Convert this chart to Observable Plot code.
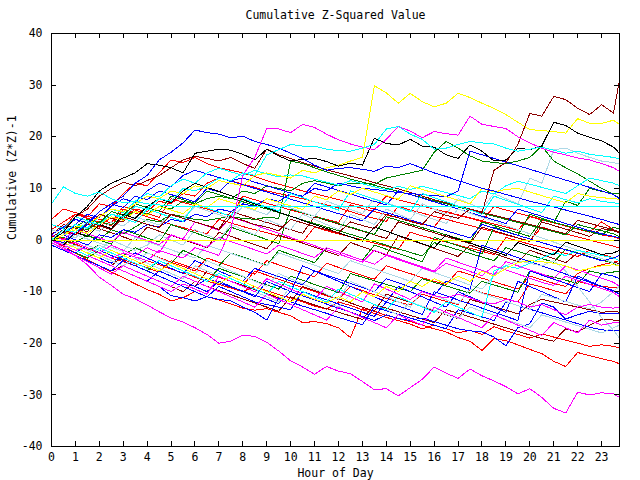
<!DOCTYPE html>
<html><head><meta charset="utf-8">
<script src="https://cdn.jsdelivr.net/npm/d3@7"></script>
<script src="https://cdn.jsdelivr.net/npm/@observablehq/plot@0.6"></script>
<style>body{margin:0;background:#fff}</style>
</head><body><div id="chart"></div>
<script>
const title = "Cumulative Z-Squared Value";
const xLabel = "Hour of Day";
const yLabel = "Cumulative (Z*Z)-1";
const hours = [0,0.5,1,1.5,2,2.5,3, 3.5,4,4.5,5,5.5,6,6.5, 7,7.5,8,8.5,9,9.5,10, 10.5,11,11.5,12,12.5,13,13.5, 14,14.5,15,15.5,16,16.5,17, 17.5,18,18.5,19,19.5,20,20.5, 21,21.5,22,22.5,23,23.5,23.75];
const hourTicks = [0,1,2,3,4,5,6,7,8,9,10,11,12,13,14,15,16,17,18,19,20,21,22,23];
const valueTicks = [-40,-30,-20,-10,0,10,20,30,40];

const r1 = [3,2.2,5,4.2,3.5,2.8,6, 5.2,4.5,3.8,3,2.4,1.8,1.2, 4,3.3,2.6,2,1.4,0.8,0.2, -0.4,2.5,1.8,1.2,0.6,0,-0.6, -1.2,-1.8,1.5,0.8,0.2,-0.4,-1, -1.6,-2.2,-2.8,0.5,-0.2,-0.8,-1.4, -2,-2.6,-3.2,-2,-2.8,-3.4,-4];
const r2 = [0,-1.2,-2.5,-3.8,-5,-6.2,-7.3, -8.5,-9.6,-10.5,-11.8,-11.2,-10,-11, -11.6,-12.4,-13.2,-13.6,-13.3,-14,-14.7, -16,-15.8,-16.2,-17,-18.9,-13.3,-13.8, -14.6,-15.2,-15.8,-16.5,-17.2,-17.8,-18.9, -19.6,-21.4,-19.1,-19.5,-20.3,-21.2,-22, -23.5,-24.5,-21.8,-22.4,-23,-23.5,-24];
const r3 = [1,0.2,-0.8,-1.8,-2.5,-3.5,-4.2, -5,-4,-4.8,-5.6,-6.4,-7.2,-8, -8.6,-9.3,-10,-9,-9.8,-10.6,-11.2, -12,-12.8,-13.4,-12,-12.7,-13.5,-14.2, -15,-15.6,-16.3,-17.2,-16.5,-17.2,-18, -17.5,-18.3,-16.8,-17.6,-18.3,-19,-18.2, -18.8,-19.4,-20,-20.6,-20.3,-20.6,-20.9];
const r4 = [2,3.5,5,4.5,7,6.5,9, 11,10.5,13,15.5,15,16,14.8, 14,13.5,13,12.3,11.5,10.8,10.2, 9.5,9,8.4,7.8,7.2,6.6,6, 8.5,7.8,7.2,6.6,6,5.4,4.8, 4.2,3.6,6.5,5.8,5.2,4.6,4, 3.4,2.8,2.2,1.6,1,0.6,0.2];
const r5 = [0,1.5,1,3,2.5,4.5,4, 6,5.5,7.5,7,9,8.5,11, 12,11.5,10.8,10.2,9.5,9,8.5, 8,7.4,6.8,6.2,5.5,4.8,4.2, 3.6,6.5,5.8,5.2,4.6,4,3.4, 2.8,2.2,1.6,1,0.4,-0.2,2.5, 1.8,1.2,0.6,0,-0.6,-1.2,-1.6];
const r6 = [-0.5,-1.5,-2.5,-3.4,-2,-3,-3.8, -4.6,-5.4,-6.2,-4,-4.8,-5.6,-6.4, -7.2,-8,-8.8,-6,-6.8,-7.6,-8.4, -9.2,-10,-10.8,-11.5,-9,-9.8,-10.6, -11.3,-12,-12.6,-10.5,-11.2,-11.9,-12.5, -9.5,-10.2,-10.8,-11.4,-12,-8.5,-9.1, -9.8,-10.4,-8,-8.6,-9,-9.2,-9.3];
const r7 = [4,6,5.3,4.6,4,3.3,6.5, 5.8,5.1,4.4,8,7.3,6.6,6, 5.3,4.7,8.5,7.8,7.1,6.5,5.8, 5.2,4.6,4,3.4,6.8,6.1,5.5, 4.9,4.3,3.7,3.1,2.5,5.5,4.9, 4.3,3.7,3.1,2.5,1.9,4.5,3.9, 3.3,2.7,2.1,1.5,3.5,2,1.4];
const r8 = [0.5,-0.5,-1.5,-2.5,-1,-2,-3, -4,-2.5,-3.4,-4.3,-5.1,-6,-3.5, -4.3,-5.1,-5.9,-6.6,-4,-4.8,-5.6, -6.4,-7.1,-4.5,-5.3,-6.1,-6.9,-7.6, -5,-5.8,-6.5,-7.3,-8,-8.6,-6, -6.7,-7.4,-8.1,-8.8,-9.5,-7,-7.7, -8.4,-9,-6.5,-5.5,-4.8,-4.3,-4];
const dr1 = [0,2,4.5,6,8.5,10,11.2, 10.5,11.5,12.5,14,15.5,16.2,15.8, 15.3,16,14.8,13.9,17.6,16.5,15.8, 15,14.3,13.6,13,12.4,11.8,11.1, 10.5,9.9,9.2,8.5,7.8,7.2,6.6, 6,5.4,4.8,4.2,3.6,3,2.4, 1.8,1.2,3.8,3.2,2.6,2,1.5];
const dr2 = [-1,-2,-3,-4,-5,-6,-5, -6,-7,-8,-9,-10,-8,-9, -9.8,-10.6,-11.4,-12.2,-13,-13.8,-11, -11.8,-12.6,-13.3,-14,-14.7,-15.4,-12.5, -13.2,-13.9,-14.6,-15.3,-16,-13.5,-14.2, -14.9,-15.6,-16.3,-17,-17.7,-18.4,-19.1, -19.6,-17.2,-17.8,-16.5,-15.4,-15.5,-15.6];
const dr3 = [2,1.2,0.4,3,2.2,1.4,0.6, -0.2,2.5,1.7,0.9,0.1,-0.7,-1.5, 1.5,0.7,-0.1,-0.9,-1.7,1,0.2, -0.6,-1.4,-2.2,-3,-0.5,-1.3,-2.1, -2.9,0.8,0,-0.8,-1.6,-2.4,-3.2, -1,-1.8,-2.6,-3.4,-4.2,-2,-2.8, -3.6,-4.4,-2.5,-3.2,-3.9,-4.3,-4.6];
const dr4 = [1,3,2.3,1.6,5,4.2,3.5, 7,6.3,5.6,4.9,4.2,3.5,2.8, 2.1,5.5,4.8,4.1,3.4,2.7,2, 1.3,4.5,3.8,3.1,2.4,1.7,1, 0.3,3.5,2.8,2.1,1.4,0.7,0, -0.7,2.5,1.8,1.1,0.4,-0.3,3.5, 2.8,2.1,1.4,0.7,2.2,1.8,1.4];
const dr5 = [0,-1,-2,-3,-4,-5,-3, -4,-5,-6,-7,-8,-9,-6, -7,-8,-8.8,-9.6,-10.4,-11.2,-12, -9,-9.8,-10.6,-11.4,-12.2,-13,-13.8, -10.5,-11.3,-12.1,-12.9,-13.7,-14.5,-15.2, -11.5,-12.2,-12.9,-13.6,-14.3,-12.5,-11.5, -12,-12.5,-13,-13.5,-14,-13.8,-14];
const g1 = [0,0.5,-0.5,1,0,2,1.2, 2.5,4,3.5,5,4.5,4,3.8, 4.2,4.5,4.2,4,4.4,4.2,15.3, 14.8,14,13.2,12.5,11.8,11.2,10.6, 10,9.4,8.8,8.2,7.6,7,6.4, 5.8,5.2,4.6,4,3.4,2.8,2.2, 1.6,1,3,2.4,1.8,1.2,0.6];
const g2 = [0,1,2.5,2,3.5,3,4.5, 5.5,5,6.5,6,7.5,7,8, 8.5,8,9.5,9,10.5,10,9.5, 11,11.5,11,10.5,11,11,10.8, 12,12.5,13,13.5,17,19.1,17.8, 16.3,15.3,15,14.8,15.3,16,18.2, 15.3,14,12.8,11.4,10,8.8,8.1];
const g3 = [0,-1,1.5,0.8,0,-0.8,2, 1.2,0.4,-0.4,3,2.2,1.4,0.6, -0.2,2.5,1.7,0.9,0.1,-0.7,6, 5.3,4.6,3.9,3.2,2.5,1.8,1.1, 4.5,3.8,3.1,2.4,1.7,1,0.3, -0.4,3.5,2.8,2.1,1.4,0.7,4, 3.4,2.8,2.2,1.6,1,2.5,2.1];
const g4 = [-0.5,-1.5,-2.5,-3.5,-2,-3,-4, -5,-6,-4,-5,-6,-7,-8, -5.5,-6.3,-7.1,-7.9,-8.7,-9.5,-7, -7.8,-8.6,-9.4,-10.2,-6.5,-7.2,-7.9, -8.6,-9.3,-10,-7.5,-8.2,-8.9,-9.6, -10.3,-8,-8.7,-9.4,-10.1,-6,-6.6, -7.2,-7.8,-8.4,-6,-6.5,-6.2,-6];
const g5 = [1,0,-1,-2,-1,-2,-3, -1.5,-2.5,-3.5,-4.5,-2,-3,-4, -5,-2.5,-3.3,-4.1,-4.9,-2,-2.8, -3.6,-4.4,-1.5,-2.3,-3.1,-3.9,-1, -1.8,-2.6,-3.4,-4.2,0.5,-0.3,-1.1, -1.9,-2.7,2.5,1.7,0.9,5,4.2, 3.4,7.5,6.7,10,9.4,9,8.9];
const g6 = [0,1,2.5,4,3.3,5.5,4.8, 7,6.3,5.6,8.5,7.8,7.1,9.5, 8.8,8.1,7.4,6.7,6,5.3,4.6, 3.9,3.2,2.5,1.8,1.1,0.4,-0.3, -1,-1.7,-2.4,-3.1,-0.5,-1.2,-1.9, -2.6,-3.3,-4,-1.5,-2.2,-2.9,-3.6, -4.3,-1.8,-2.5,-3.2,-3.9,-4.5,-5];
const b1 = [0,-1,-2,-3,-4,-5,-6, -7,-8,-9,-10.8,-11.2,-11.8,-11, -11.5,-11.8,-13,-14,-15.5,-11.2,-12, -12.8,-13.5,-14.2,-15,-15.7,-16.4,-13, -13.7,-14.4,-15.1,-15.8,-16.5,-17.2,-13.5, -14.2,-14.9,-15.6,-12,-12.7,-13.4,-14.1, -14.8,-15.5,-16.2,-16.9,-17.4,-17.6,-17.6];
const b2 = [0.5,-0.5,-1.5,-2.5,-3.5,-4.5,-3, -4,-5,-6,-7,-8,-9,-7.5, -8.3,-9.1,-9.9,-10.7,-11.5,-12.3,-10, -10.8,-11.6,-12.4,-13.2,-14,-14.8,-15.6, -14.5,-15.2,-15.6,-15.1,-15.8,-16.5,-17.2, -17.6,-17.8,-18.8,-20.5,-17,-16.2,-12.2, -13,-15.3,-14.5,-13.8,-14.3,-14.3,-14.3];
const b3 = [-0.5,-1.5,-2.5,-1,-2,-3,-4, -2.5,-3.5,-4.5,-5.5,-6.5,-4,-5, -6,-7,-8,-5.5,-6.3,-7.1,-7.9, -8.7,-6,-6.8,-7.6,-8.4,-9.2,-10, -7.5,-8.3,-9.1,-9.9,-10.7,-8,-8.8, -9.6,-1,-1.8,-2.6,-3.4,-4.2,-5, -5.8,-6.6,-7.4,-8.2,-9,-10,-10.4];
const b4 = [1,2.5,4,3.3,5.5,7,6.3, 8.5,7.8,9.5,8.8,8.1,7.4,10, 9.3,11.5,12,11.2,10.5,9.8,9.1, 8.4,11,10.3,9.6,8.9,8.2,7.5, 6.8,9.5,8.8,8.1,7.4,6.7,6, 5.3,4.6,3.9,3.2,6,5.3,4.6, 3.9,3.2,2.5,1.8,1.2,0.7,0.4];
const b5 = [0,-1,-2,-3,-4,-5,-6, -7,-8,-6,-7,-8,-9,-10, -8,-9,-10,-11,-8,-9,-10, -5,-6,-7,-8,-9,-10,-11, -12,-9,-10,-11,-12,-13,-10, -11,-12,-13,-14,-8,-9,-10, -11,-12,-7,-8,-9,-9.8,-10.4];
const b6 = [0,1,3,5,4.3,6.5,8, 7.3,9.5,11,10.3,12.5,13.5,12.8, 12.1,11.4,10.7,10,9.3,8.6,7.9, 7.2,6.5,5.8,5.1,4.4,3.7,6, 5.3,4.6,3.9,3.2,2.5,1.8,1.1, 0.4,3,2.3,1.6,0.9,0.2,-0.5, -1.2,-1.9,-2.6,-3.3,-4,-3.5,-3];
const b7 = [-1,-2,-3,-4,-5,-6,-4, -5,-6,-7,-8,-9,-10,-11, -9,-10,-11,-12,-12.5,-13,-13.5, -10,-10.8,-11.6,-12.4,-13.2,-14,-14.8, -12,-12.8,-13.6,-14.4,-10,-10.8,-11.6, -12.4,-13.2,-14,-14.8,-15.6,-6,-6.8, -7.6,-8.4,-9.2,-10,-6.5,-7,-7.5];
const b8 = [0,1,0,-1,1,0.5,2, 1.5,3,2.5,4,3.5,5,4.5, 6,5.5,7,6.5,8,7.5,9, 8.5,10,9.5,11,10.5,10,9.8, 9.5,9.2,9,8.8,8.6,8.4,9.5, 17.2,16.5,15.8,15.1,14.4,13.7,13, 12.3,11.6,10.9,10.2,9.5,8.8,8];
const lb1 = [0,-1,-2,-1,-2,0,-1, -2,-1,1,0,-1,2,1, 0,3,2,1,4,3,2, 5,4,3,2,5,4,3, 6,5,4,7,6,5,8, 7,6,9,8,7,12,11, 17.5,17.8,16.8,16,15.3,15,14.7];
const lb2 = [0.5,-0.5,-1.5,-2.5,-1,-2,-3, -4,-2.5,-3.5,-4.5,-5.5,-6.5,-4, -5,-6,-7,-8,-9,-6.5,-7.5, -8.5,-9.5,-10.5,-11.5,-8,-9,-10, -11,-12,-13,-10,-10.8,-11.6,-12.4, -9.5,-10.3,-11.1,-11.9,-12.7,-13.5,-10.5, -11.2,-11.9,-12.6,-13.3,-12,-10,-8.9];
const lb3 = [-0.5,-1.5,-1,-2,-3,-4,-5, -3.5,-4.5,-5.5,-6.5,-7.5,-5,-6, -7,-8,-9,-10,-11,-12,-9, -10,-11,-12,-13,-10.5,-11.5,-12.5, -13.5,-14.5,-12,-12.8,-13.6,-14.4,-15.2, -13,-13.8,-14.6,-15.4,-16.2,-17,-14.5, -15.2,-15.9,-16.6,-17.3,-18,-17,-16.5];
const lb4 = [0,-0.8,1,0.2,-0.6,-1.4,-2.2, 0.5,-0.3,-1.1,-1.9,-2.7,-3.5,-1, -1.8,-2.6,-3.4,-4.2,-5,-2.5,-3.3, -4.1,-4.9,-5.7,-6.5,-4,-4.8,-5.6, -6.4,-7.2,-8,-5.5,-6.3,-7.1,-7.9, -8.7,-9.5,-7,-5,-4,-4.5,-5, -4,-6,-9,-12,-15,-17.5,-19];
const lb5 = [2,1.2,0.4,2.5,1.7,3.5,2.7, 4.5,3.7,2.9,5,4.2,6.5,5.7, 4.9,4.1,6.5,5.7,4.9,7,6.2, 5.4,4.6,7.5,6.7,5.9,5.1,8, 7.2,6.4,5.6,4.8,4,3.2,6, 5.2,4.4,3.6,2.8,2,1.2,0.4, -0.4,-1.2,-2,-2.8,-3.6,-4.4,-5];
const m2 = [0,-1,-2,-3,-4,-5,-6, -7,-8,-9,-10,-8.5,-9.5,-10.5, -7,-8,-9,-10,-7.5,-8.5,-9.5, -10.5,-11.5,-9,-10,-11,-12,-8.5, -9.5,-10.5,-11.5,-10,-10.8,-11.2,-10.5, -11.2,-12,-12.4,-11.5,-12,-13,-12.5, -13.5,-14.5,-13,-12.5,-13,-13.2,-13];
const m3 = [-0.5,-1.8,-3,-4.2,-5.4,-6.6,-5, -6,-7,-8,-9,-7,-8,-9, -10,-11,-12,-13,-10.5,-11.5,-12.5, -13.5,-14.5,-15.5,-13,-14,-15,-16, -17,-14.5,-15.5,-16.5,-13,-14,-15, -16,-17,-14.5,-15.5,-16.5,-17.5,-18.5, -16,-17,-18,-15.5,-16.5,-16,-16];
const m4 = [1,0,2,1.2,0.4,-0.4,1.5, 0.7,-0.1,-0.9,1,0.2,-0.6,-1.4, 0.5,-0.3,-1.1,-1.9,-2.7,-1,-1.8, -2.6,-3.4,-1.5,-2.3,-3.1,-3.9,-4.7, -3,-3.8,-4.6,-5.4,-6.2,-4.5,-5.3, -6.1,-6.9,-5,-5.8,-6.6,-7.4,-8.2, -8.8,-7,-7.8,-8.6,-9.4,-10.2,-11];
const m5 = [0,-1,-0.5,-1.5,-2.5,-1,-2, -3,-1.5,-2.5,1,0.2,3.5,2.7, 1.9,4.5,3.7,2.9,2.1,1.3,0.5, -0.3,-1.1,-1.9,-2.7,-3.5,-4.3,-2, -2.8,-3.6,-4.4,-5.2,-6,-3.5,-4.3, -5.1,-5.9,-6.7,-4.2,-5,-5.8,-6.6, -7.4,-5,-5.8,-6.6,-7.4,-8.2,-9];
const c3 = [3,2.2,4.5,3.7,2.9,5,4.2, 3.4,6,5.2,4.4,3.6,7,6.2, 5.4,4.6,8,7.2,6.4,5.6,9, 8.2,7.4,6.6,5.8,9.5,8.7,7.9, 7.1,6.3,5.5,9,8.2,7.4,6.6, 5.8,5,8.5,7.7,6.9,6.1,5.3, 8.5,7.8,7.2,8,7.5,7.2,7];
const c4 = [0,-1,-2,-3,-1.5,-2.5,-3.5, -4.5,-5.5,-4,-5,-6,-7,-8, -6.5,-7.5,-8.5,-9.5,-10.5,-8,-9, -10,-11,-12,-9.5,-10.5,-11.5,-12.5, -13.5,-11,-12,-13,-14,-12,-13, -14,-15,-6,-5,-5.5,-4.5,-3.5, -2.5,-3,-2,-2.5,-3,-3.5,-4];
const c5 = [0,1.5,3,2.3,4.5,6,5.3, 7.5,9,8.3,10.5,11.8,11,13, 13.9,13.2,12.5,13.5,12.8,12.2,12.6, 12.4,11.8,11.2,10.6,11.5,10.9,10.3, 9.7,10.4,9.8,10.4,9.8,9.2,8.6, 8,9.5,8.9,10.5,11.4,10.8,10.2, 9.6,9,10.5,12,11.5,11,10.5];
const y3 = [0,1,2,1.3,3,4.5,3.8, 5.5,4.8,6.5,5.8,5.1,7,6.3, 8,7.3,6.6,5.9,8,7.3,6.6, 5.9,8.5,7.8,9.5,8.8,10,9.3, 8.6,7.9,10.5,9.8,9.1,8.4,7.7, 7,10,9.3,9.8,10,9.3,8.6, 7.9,7.2,9,8.5,8.2,8,7.9];
const y4 = [0.5,-0.5,-1.5,-2.5,-3.5,-2,-3, -4,-5,-6,-4.5,-5.5,-6.5,-7.5, -8.5,-7,-8,-9,-10,-11,-12, -10.5,-11.5,-12.2,-11,-12,-10,-11, -9,-10,-8,-9,-7.5,-8.5,-7, -8,-6,-7,-5.5,-4.4,-4,-4.2, -4.5,-5,-6,-5.5,-5,-4.8,-5];
const k2 = [0,-1,1.5,0.7,3,2.2,5, 4.2,6.5,8,7.2,9.5,11,10.2, 9.4,8.6,7.8,7,6.2,5.4,4.6, 3.8,3,2.2,1.4,0.6,-0.2,2.5, 1.7,0.9,0.1,-0.7,-1.5,1,0.2, -0.6,-1.4,-2.2,-3,-0.5,-1.3,-2.1, -2.9,-0.4,-1.2,-2,-2.8,-2.5,-2];
const magBottom = [0,-1.5,-3,-4.8,-7.2,-8.8,-10.5, -11.4,-12.6,-13.9,-15.1,-15.9,-17,-18.3, -20,-19.6,-18.4,-18.7,-19.8,-21.5,-23.4, -24.6,-26,-24.5,-25.4,-25.9,-27.4,-29, -28.8,-30.2,-28.6,-27,-24.6,-25.8,-26.8, -25,-26.3,-27.3,-28.4,-29.8,-28.8,-30.5, -32.6,-33.5,-29.5,-30,-29.6,-29.8,-30.5];
const yellowTop = [0,1,2.5,3,4.5,6,5.5, 7,8.5,8,9.5,9,10.5,10, 11.5,11,10.5,12.5,13,12.5,12, 13.5,13,14,14.5,15.3,16,29.9, 28.5,26.5,28.4,26.8,25.8,26.5,28.4, 27.6,26.5,25.5,24.3,22.8,21.4,21.2, 21,20.7,23.5,22.6,22.6,23.2,22.4];
const darkRedTop = [0.5,2,1,3.5,2.8,2,4.5, 3.8,3,2.4,5,4.2,3.5,2.8, 2,4.5,3.8,3,2.5,1.8,4, 3.3,2.6,2,1.4,3.5,2.8,2.2, 5,4.3,3.6,3,5.5,4.8,4.2, 6,5.2,13.5,15,18.5,24.5,24, 27.8,27.2,25.5,24.3,26.2,24.6,31];
const blackTop = [0,1.5,4.5,6.5,9.5,11,12, 13,14.8,14.5,14,13,16.8,17.2, 17.6,17.4,16.6,15.5,17.6,16.3,15.3, 15.6,15.8,15.2,14.3,14.9,14.5,19.7, 18.7,18.4,19.5,18.2,18,16.5,15.8, 18.4,17.2,15.3,15.5,17.8,17.5,18.2, 22.8,22.2,20.7,19.9,19.2,18,16.8];
const blueTop = [0,-0.5,1.5,3,5.5,7,8.5, 11,12.5,15.5,17,18.8,21.3,20.8, 20.5,19.8,20.1,19.1,18.5,17.8,16.8, 15.8,14.5,13.5,13.9,14,13.7,13.3, 14.3,14,14.8,13.9,13,12.3,11.5, 10.8,10,9.5,8.8,8.2,7.5,7, 6.4,5.8,5.2,4.6,4,3.3,3];
const magUpper = [0,-1,-2,-1.5,-2.5,-3.5,-2.5, -3.3,-4,-2,-2.8,-3.5,-1.5,-2.2, -3,2,12.5,16,21.6,21.5,20.8, 22.4,21.8,20.5,19.4,18.6,18,17.5, 19.5,22,21.1,19.8,21,20.6,20.3, 24,22.4,22,21.6,20,18.8,17.8, 17,16.5,15.9,15.5,14.8,14,13.3];
const cyanUpper = [0,2,1.5,3.5,3,5,4.5, 6.5,6,8,7.5,10,9.5,10.5, 12,11.5,13,12.5,16.5,17.5,18.5, 18.2,18.2,17.6,17.3,17.2,17.8,18.5, 21.5,22,20.5,19.5,17.6,17.8,18.5, 19.1,18.8,18.6,17.8,17.2,17.6,18, 17.4,16.8,17.2,16.6,16.3,16,15.7];
const cyanFlat = [7,10.3,9,8.5,9.3,8,7.2, 7.5,7,6.8,6.6,6.4,6.4,6.4, 6.4,6.4,6.4,6.4,6.4,6.4,6.4, 6.4,6.4,6.4,6.4,6.4,6.4,6.4, 6.4,6.4,6.4,6.4,6.4,6.4,6.4, 6.4,6.4,6.4,6.4,6.4,6.4,6.4, 6.4,6.4,6.4,6.4,6.4,6.4,6.4];
const yellowFlat = [0,0,0,0,0,0,0, 0,0,0,0,0,0,0, 0,0,0,0,0,0,0, 0,0,0,0,0,0,0, 0,0,0,0,0,0,0, 0,0,0,0,0,0,0, 0,0,0,0,0,0,0];

const seriesNames = ["r1","r2","r3","r4","r5","r6","r7","r8","dr1","dr2","dr3","dr4","dr5","g1","g2","g3","g4","g5","g6","b1","b2","b3","b4","b5","b6","b7","b8","lb1","lb2","lb3","lb4","lb5","m2","m3","m4","m5","c3","c4","c5","y3","y4","k2","magBottom","yellowTop","darkRedTop","blackTop","blueTop","magUpper","cyanUpper","cyanFlat","yellowFlat"];
const seriesValues = [r1,r2,r3,r4,r5,r6,r7,r8,dr1,dr2,dr3,dr4,dr5,g1,g2,g3,g4,g5,g6,b1,b2,b3,b4,b5,b6,b7,b8,lb1,lb2,lb3,lb4,lb5,m2,m3,m4,m5,c3,c4,c5,y3,y4,k2,magBottom,yellowTop,darkRedTop,blackTop,blueTop,magUpper,cyanUpper,cyanFlat,yellowFlat];
const seriesGroup = ["red","red","red","red","red","red","red","red","darkred","darkred","darkred","darkred","darkred","green","green","green","green","green","green","blue","blue","blue","blue","blue","blue","blue","blue","lightblue","lightblue","lightblue","lightblue","lightblue","magenta","magenta","magenta","magenta","cyan","cyan","cyan","yellow","yellow","black","magenta","yellow","darkred","black","blue","magenta","cyan","cyan","yellow"];
const groupNames = ["red","darkred","green","blue","lightblue","magenta","cyan","yellow","black"];
const groupColors = ["#ff0000","#a00000","#00a000","#0000ff","#6060ff","#ff40ff","#00ffff","#ffff00","#000000"];

const rows = seriesNames.flatMap((name, i) =>
  seriesValues[i].map((v, j) => ({series: name, group: seriesGroup[i], hour: hours[j], value: v})));

const xMin = hours[0], xMax = hours[hours.length - 1];
const yMin = valueTicks[0], yMax = valueTicks[valueTicks.length - 1];

const chart = Plot.plot({
  width: 640, height: 480,
  marginLeft: 51, marginRight: 21, marginTop: 33, marginBottom: 34,
  style: {fontFamily: "DejaVu Sans Mono", fontSize: "11.5px", background: "#fff", color: "#000"},
  x: {domain: [xMin, xMax]},
  y: {domain: [yMin, yMax]},
  color: {domain: groupNames, range: groupColors},
  marks: [
    Plot.line(rows, {x: "hour", y: "value", z: "series", stroke: "group", strokeWidth: 1, shapeRendering: "crispEdges"}),
    Plot.frame({stroke: "#000", shapeRendering: "crispEdges"}),
    Plot.ruleX(hourTicks, {x: d => d, y1: yMin, y2: yMin + 1, stroke: "#000", shapeRendering: "crispEdges"}),
    Plot.ruleX(hourTicks, {x: d => d, y1: yMax, y2: yMax - 1, stroke: "#000", shapeRendering: "crispEdges"}),
    Plot.ruleY(valueTicks, {y: d => d, x1: xMin, x2: xMin + 0.22, stroke: "#000", shapeRendering: "crispEdges"}),
    Plot.ruleY(valueTicks, {y: d => d, x1: xMax, x2: xMax - 0.22, stroke: "#000", shapeRendering: "crispEdges"}),
    Plot.axisX({ticks: hourTicks, tickSize: 0, tickPadding: 6, label: null, tickFormat: d => String(d)}),
    Plot.axisY({ticks: valueTicks, tickSize: 0, tickPadding: 9, label: null, tickFormat: d => String(d)}),
    Plot.text([title], {text: d => d, frameAnchor: "top", lineAnchor: "middle", dy: -18}),
    Plot.text([xLabel], {text: d => d, frameAnchor: "bottom", lineAnchor: "middle", dy: 27}),
    Plot.text([yLabel], {text: d => d, frameAnchor: "left", lineAnchor: "middle", dx: -39, rotate: -90})
  ]
});
document.getElementById("chart").appendChild(chart);
</script>
</body></html>
